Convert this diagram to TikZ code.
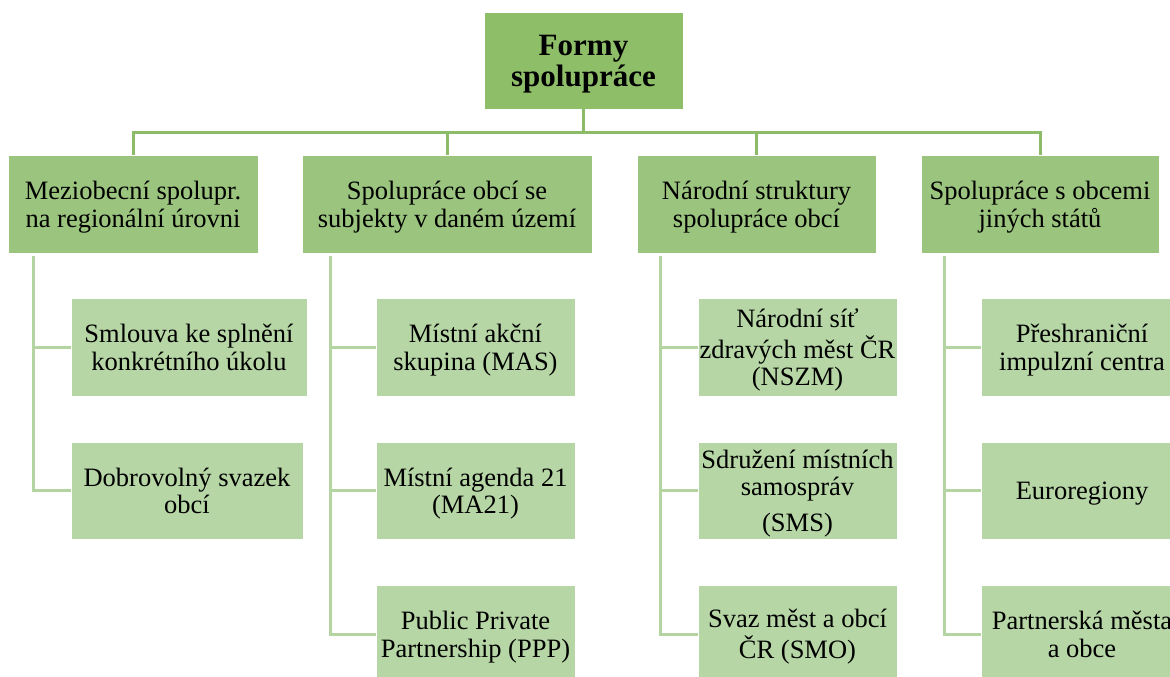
\documentclass[tikz,border=0pt]{standalone}
\usepackage{fontspec}
\setmainfont{Liberation Serif}
\definecolor{gTop}{RGB}{142,190,104}
\definecolor{gOne}{RGB}{155,197,126}
\definecolor{gTwo}{RGB}{182,214,165}
\definecolor{lTop}{RGB}{140,188,104}
\definecolor{lTwo}{RGB}{180,212,162}
\newcommand{\boxtext}[2][-4pt]{\raisebox{#1}[\height][\depth]{\begin{tabular}{@{}c@{}}#2\end{tabular}}}
\tikzset{
  box/.style={rectangle, draw=white, line width=0.8pt, inner sep=0pt, text=black,
    font=\fontsize{26.5}{27.2}\selectfont},
  topbox/.style={box, fill=gTop, font=\fontsize{31}{31}\selectfont\bfseries},
  onebox/.style={box, fill=gOne},
  twobox/.style={box, fill=gTwo},
  conA/.style={draw=lTop, line width=3pt},
  conB/.style={draw=lTwo, line width=3pt},
}
\begin{document}
\begin{tikzpicture}[x=1pt,y=-1pt]
\useasboundingbox (0,0) rectangle (1170,677);
\clip (0,0) rectangle (1170,677);
% top
\node[topbox, minimum width=199pt, minimum height=97pt] (top) at (583.5,60.5) {\boxtext{Formy\\spolupráce}};
% level 1
\node[onebox, minimum width=250pt, minimum height=98pt] (b1) at (133,204) {\boxtext{Meziobecní spolupr.\\na regionální úrovni}};
\node[onebox, minimum width=290pt, minimum height=98pt] (b2) at (447,204) {\boxtext{Spolupráce obcí se\\subjekty v daném území}};
\node[onebox, minimum width=239pt, minimum height=98pt] (b3) at (756.5,204) {\boxtext{Národní struktury\\spolupráce obcí}};
\node[onebox, minimum width=238pt, minimum height=98pt] (b4) at (1040,204) {\boxtext{Spolupráce s obcemi\\jiných států}};
% level 2, column 1
\node[twobox, minimum width=236pt, minimum height=98pt] (a11) at (189,347) {\boxtext{Smlouva ke splnění\\konkrétního úkolu}};
\node[twobox, minimum width=232pt, minimum height=97pt] (a12) at (187,490.5) {\boxtext{Dobrovolný svazek\\obcí}};
% column 2
\node[twobox, minimum width=199pt, minimum height=98pt] (a21) at (475.5,347) {\boxtext{Místní akční\\skupina (MAS)}};
\node[twobox, minimum width=199pt, minimum height=97pt] (a22) at (475.5,490.5) {\boxtext{Místní agenda 21\\(MA21)}};
\node[twobox, minimum width=199pt, minimum height=98pt] (a23) at (475.5,634) {\boxtext{Public Private\\Partnership (PPP)}};
% column 3
\node[twobox, minimum width=199pt, minimum height=98pt] (a31) at (797.5,347) {\boxtext{Národní síť\\zdravých měst ČR\\(NSZM)}};
\node[twobox, minimum width=199pt, minimum height=97pt] (a32) at (797.5,490.5) {\boxtext{Sdružení místních\\samospráv\\[9pt](SMS)}};
\node[twobox, minimum width=199pt, minimum height=98pt] (a33) at (797.5,634) {\boxtext{Svaz měst a obcí\\ČR (SMO)}};
% column 4
\node[twobox, minimum width=202pt, minimum height=98pt] (a41) at (1082,347) {\boxtext{Přeshraniční\\impulzní centra}};
\node[twobox, minimum width=202pt, minimum height=97pt] (a42) at (1082,490.5) {\boxtext{Euroregiony}};
\node[twobox, minimum width=202pt, minimum height=98pt] (a43) at (1082,634) {\boxtext{Partnerská města\\a obce}};
% connectors top
\coordinate (hub) at (583.5,132);
\draw[conA] (top.south) -- (hub);
\draw[conA] (hub) -| (b1.north);
\draw[conA] (hub) -| (b2.north);
\draw[conA] (hub) -| (b3.north);
\draw[conA] (hub) -| (b4.north);
% connectors level 2
\coordinate (v1) at (33,256);
\coordinate (v2) at (330,256);
\coordinate (v3) at (660,256);
\coordinate (v4) at (944,256);
\draw[conB] (v1) |- (a11.west);
\draw[conB] (v1) |- (a12.west);
\draw[conB] (v2) |- (a21.west);
\draw[conB] (v2) |- (a22.west);
\draw[conB] (v2) |- (a23.west);
\draw[conB] (v3) |- (a31.west);
\draw[conB] (v3) |- (a32.west);
\draw[conB] (v3) |- (a33.west);
\draw[conB] (v4) |- (a41.west);
\draw[conB] (v4) |- (a42.west);
\draw[conB] (v4) |- (a43.west);
\end{tikzpicture}
\end{document}
